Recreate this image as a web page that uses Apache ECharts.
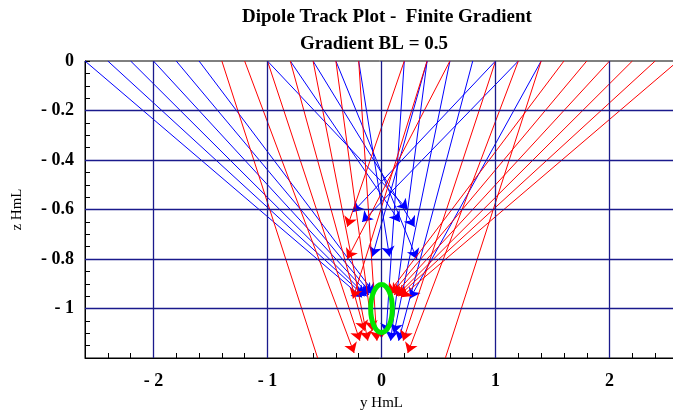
<!DOCTYPE html>
<html>
<head>
<meta charset="utf-8">
<script src="https://cdn.jsdelivr.net/npm/echarts@6/dist/echarts.min.js"></script>
<style>
  html, body { margin: 0; padding: 0; background: #fff; }
  #chart { width: 673px; height: 413px; }
</style>
</head>
<body>
<div id="chart"></div>
<script>
// 数据
//-----

// 轨迹：[起点 y, 起点 z, 终点 y, 终点 z]
var blueTracks = [
  [-2.6, 0, -0.17, -0.955],
  [-2.4, 0, -0.15, -0.95],
  [-2.2, 0, -0.13, -0.95],
  [-2.0, 0, -0.11, -0.945],
  [-1.8, 0, -0.09, -0.94],
  [-1.6, 0, -0.06, -0.94],
  [-1.0, 0, 0.23, -0.60],
  [-0.8, 0, 0.16, -0.65],
  [-0.6, 0, 0.29, -0.67],
  [-0.4, 0, 0.31, -0.80],
  [-0.2, 0, 0.07, -0.79],
  [1.0, 0, -0.25, -0.61],
  [1.2, 0, -0.17, -0.65],
  [0.4, 0, -0.08, -0.79],
  [1.4, 0, 0.25, -0.96],
  [0.2, 0, 0.04, -1.10],
  [0.4, 0, 0.08, -1.13],
  [0.6, 0, 0.11, -1.10],
  [0.8, 0, 0.15, -1.13]
];

var redTracks = [
  [-1.2, 0, -0.24, -1.18],
  [1.2, 0, 0.23, -1.18],
  [2.6, 0, 0.17, -0.955],
  [2.4, 0, 0.15, -0.95],
  [2.2, 0, 0.13, -0.95],
  [2.0, 0, 0.11, -0.945],
  [1.8, 0, 0.09, -0.94],
  [1.6, 0, 0.06, -0.94],
  [0.2, 0, -0.30, -0.67],
  [0.6, 0, -0.30, -0.80],
  [0.4, 0, -0.25, -0.96],
  [-1.0, 0, -0.19, -1.13],
  [-0.8, 0, -0.15, -1.09],
  [-0.6, 0, -0.12, -1.13],
  [-0.4, 0, -0.08, -1.09],
  [-0.2, 0, -0.04, -1.13],
  [1.0, 0, 0.19, -1.13],
  [0, 0, 0, -1.12]
];

// 没有箭头、从下边出去的轨迹
var redOpenTracks = [
  [-1.4, 0, -0.56, -1.2],
  [1.4, 0, 0.56, -1.2]
];

// 绿色椭圆：[中心 y, 中心 z, 半轴 y, 半轴 z]
var ring = [[0, -1.0, 0.095, 0.097]];

var xGridValues = [-2, -1, 0, 1, 2];
var yGridValues = [-0.2, -0.4, -0.6, -0.8, -1.0];

// 格式化刻度：负号后面有空格
var fmt = function(v) {
  var r = Math.round(v * 100) / 100;
  if (r === 0) return '0';
  return r < 0 ? '- ' + (-r) : '' + r;
};

var toLines = function(list) {
  return list.map(function(t) {
    return { coords: [[t[0], t[1]], [t[2], t[3]]] };
  });
};

// 画图
//-----
var myChart = echarts.init(document.getElementById('chart'));

var serif = 'Liberation Serif';

var option = {
  animation: false,
  backgroundColor: '#fff',
  title: [
    {
      text: 'Dipole Track Plot -  Finite Gradient',
      left: 382, top: 3, textAlign: 'center',
      textStyle: { fontFamily: serif, fontWeight: 'bold', fontSize: 19, color: '#000' }
    },
    {
      text: 'Gradient BL = 0.5',
      left: 369, top: 30, textAlign: 'center',
      textStyle: { fontFamily: serif, fontWeight: 'bold', fontSize: 19, color: '#000' }
    }
  ],
  grid: {
    left: 85, top: 61, width: 593, height: 297,
    outerBoundsMode: 'none', containLabel: false,
    show: true, borderColor: '#000', borderWidth: 1
  },
  xAxis: {
    type: 'value', min: -2.6, max: 2.6, interval: 0.2,
    name: 'y HmL', nameLocation: 'middle', nameGap: 38,
    nameTextStyle: { fontFamily: serif, fontSize: 15, color: '#000' },
    axisLine: { onZero: false, lineStyle: { color: '#000' } },
    axisTick: { inside: true, length: 5, lineStyle: { color: '#000' } },
    axisLabel: {
      margin: 14,
      formatter: function(v) {
        var r = Math.round(v * 10) / 10;
        return Math.abs(r - Math.round(r)) < 1e-6 ? fmt(r) : '';
      },
      fontFamily: serif, fontWeight: 'bold', fontSize: 18, color: '#000'
    },
    splitLine: { show: false }
  },
  yAxis: {
    type: 'value', min: -1.2, max: 0, interval: 0.05,
    name: 'z HmL', nameLocation: 'middle', nameGap: 60, nameRotate: 90,
    nameTextStyle: { fontFamily: serif, fontSize: 15, color: '#000' },
    axisLine: { onZero: false, lineStyle: { color: '#000' } },
    axisTick: { inside: true, length: 5, lineStyle: { color: '#000' } },
    axisLabel: {
      margin: 11,
      formatter: function(v) {
        var r = Math.round(v * 100);
        if (r === -120) return '';
        return r % 20 === 0 ? fmt(v) : '';
      },
      fontFamily: serif, fontWeight: 'bold', fontSize: 18, color: '#000'
    },
    splitLine: { show: false }
  },
  series: [
    {
      // 网格线
      type: 'line', data: [], z: 1,
      markLine: {
        silent: true, symbol: ['none', 'none'], animation: false,
        label: { show: false },
        lineStyle: { color: '#1a1a8c', width: 1.3, type: 'solid' },
        data: xGridValues.map(function(v) { return { xAxis: v }; })
          .concat(yGridValues.map(function(v) { return { yAxis: v }; }))
      }
    },
    {
      name: 'blue', type: 'lines', coordinateSystem: 'cartesian2d', z: 3,
      symbol: ['none', 'arrow'], symbolSize: 10,
      lineStyle: { color: '#0000ff', width: 1, opacity: 1 },
      data: toLines(blueTracks)
    },
    {
      name: 'red', type: 'lines', coordinateSystem: 'cartesian2d', z: 4,
      symbol: ['none', 'arrow'], symbolSize: 10,
      lineStyle: { color: '#ff0000', width: 1, opacity: 1 },
      data: toLines(redTracks)
    },
    {
      name: 'redOpen', type: 'lines', coordinateSystem: 'cartesian2d', z: 4,
      symbol: ['none', 'none'],
      lineStyle: { color: '#ff0000', width: 1, opacity: 1 },
      data: toLines(redOpenTracks)
    },
    {
      name: 'ring', type: 'custom', z: 5,
      renderItem: function(params, api) {
        var c = api.coord([api.value(0), api.value(1)]);
        var s = api.size([api.value(2), api.value(3)]);
        var rx = s[0], ry = s[1];
        var d = 'M' + (c[0] - rx) + ' ' + c[1] +
          ' A' + rx + ' ' + ry + ' 0 1 0 ' + (c[0] + rx) + ' ' + c[1] +
          ' A' + rx + ' ' + ry + ' 0 1 0 ' + (c[0] - rx) + ' ' + c[1] + ' Z';
        return {
          type: 'path',
          shape: { pathData: d },
          style: { fill: 'none', stroke: '#00e600', lineWidth: 5 }
        };
      },
      data: ring
    }
  ]
};

myChart.setOption(option);
</script>
</body>
</html>
